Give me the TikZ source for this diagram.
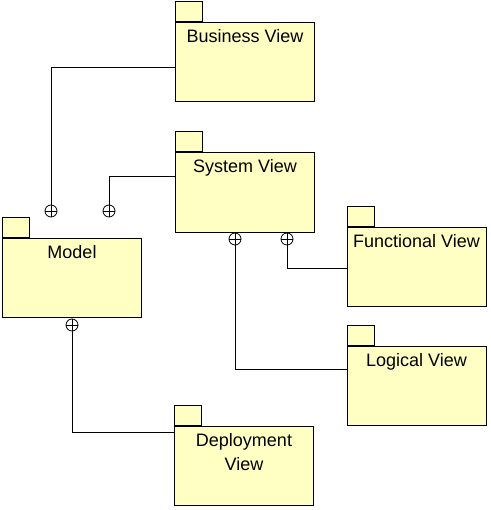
\documentclass[tikz,border=0pt]{standalone}
\usepackage{fontspec}
\setmainfont{Liberation Sans}
\usetikzlibrary{positioning}
\definecolor{pkgyellow}{RGB}{255,255,196}
\tikzset{pkgbody/.style={rectangle, draw=black, fill=pkgyellow, line width=1pt, minimum width=139pt, minimum height=79pt, inner sep=0pt, anchor=north west},
pkgtab/.style={rectangle, draw=black, fill=pkgyellow, line width=1pt, minimum width=27pt, minimum height=20pt, inner sep=0pt, anchor=south west},
pkgtext/.style={anchor=north, align=center, inner sep=0pt, font=\fontsize{18}{24}\selectfont},
oplus/.style={circle, draw=black, fill=white, line width=0.8pt, minimum size=12pt, inner sep=0pt,
  path picture={\draw[line width=0.8pt] (path picture bounding box.north) -- (path picture bounding box.south) (path picture bounding box.west) -- (path picture bounding box.east);}},
wire/.style={draw=black, line width=1pt}}

\begin{document}
\begin{tikzpicture}[x=1pt, y=-1pt]
    \useasboundingbox (0,0) rectangle (490,510);

    % Packages
    \foreach \name/\x/\y/\pkgtext in {bv/175/22.5/Business View, sv/175/152.5/System View, model/2/238/Model, fv/346.5/227/Functional View, lv/346.5/346/Logical View, dv/174/426/{Deployment\\View}} {
        \node[pkgbody] (\name) at (\x, \y) {};
        \node[pkgtab] (\name tab) at (\name.north west) {};
        \node[pkgtext] (\name text) at ([yshift=-7pt]\name.north) {\pkgtext};
    }

    % Connector ends
    \node[oplus] (mb) at (51, 211) {};
    \node[oplus] (ms) at (109, 211) {};
    \node[oplus] (md) at (72, 325) {};
    \node[oplus] (sl) at (235, 239) {};
    \node[oplus] (sf) at (287, 239) {};

    % Connectors
    \draw[wire] (mb.north) |- ([yshift=-45pt]bv.north west);
    \draw[wire] (ms.north) |- ([yshift=-24pt]sv.north west);
    \draw[wire] (sf.south) |- ([yshift=-41pt]fv.north west);
    \draw[wire] (sl.south) |- ([yshift=-23pt]lv.north west);
    \draw[wire] (md.south) |- ([yshift=-6pt]dv.north west);
\end{tikzpicture}
\end{document}
